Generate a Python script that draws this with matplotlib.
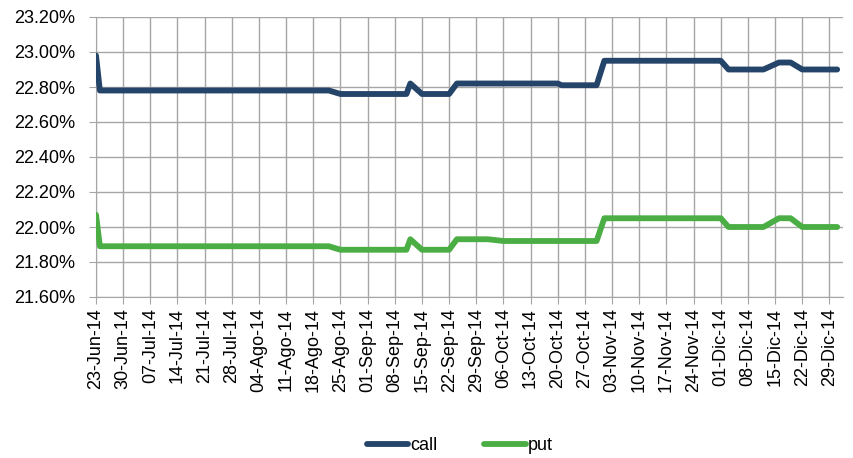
import datetime as dt
import matplotlib
matplotlib.use("Agg")
import matplotlib.pyplot as plt
from matplotlib.ticker import FuncFormatter

plt.rcParams['font.family'] = ['Liberation Sans', 'DejaVu Sans']

# fechas en que cambia el valor (volatilidad implícita, %)
call_dates = ['2014-06-23', '2014-06-24', '2014-08-22', '2014-08-25', '2014-09-11',
              '2014-09-12', '2014-09-15', '2014-09-22', '2014-09-24', '2014-10-20',
              '2014-10-21', '2014-10-30', '2014-11-01', '2014-12-01', '2014-12-03',
              '2014-12-12', '2014-12-16', '2014-12-19', '2014-12-22', '2014-12-31']
call_vals = [22.98, 22.78, 22.78, 22.76, 22.76,
             22.82, 22.76, 22.76, 22.82, 22.82,
             22.81, 22.81, 22.95, 22.95, 22.90,
             22.90, 22.94, 22.94, 22.90, 22.90]

put_dates = ['2014-06-23', '2014-06-24', '2014-08-22', '2014-08-25', '2014-09-11',
             '2014-09-12', '2014-09-15', '2014-09-22', '2014-09-24', '2014-10-02',
             '2014-10-06', '2014-10-30', '2014-11-01', '2014-12-01', '2014-12-03',
             '2014-12-12', '2014-12-16', '2014-12-19', '2014-12-22', '2014-12-31']
put_vals = [22.07, 21.89, 21.89, 21.87, 21.87,
            21.93, 21.87, 21.87, 21.93, 21.93,
            21.92, 21.92, 22.05, 22.05, 22.00,
            22.00, 22.05, 22.05, 22.00, 22.00]

tick_labels = ['23-Jun-14', '30-Jun-14', '07-Jul-14', '14-Jul-14', '21-Jul-14', '28-Jul-14',
               '04-Ago-14', '11-Ago-14', '18-Ago-14', '25-Ago-14', '01-Sep-14', '08-Sep-14',
               '15-Sep-14', '22-Sep-14', '29-Sep-14', '06-Oct-14', '13-Oct-14', '20-Oct-14',
               '27-Oct-14', '03-Nov-14', '10-Nov-14', '17-Nov-14', '24-Nov-14', '01-Dic-14',
               '08-Dic-14', '15-Dic-14', '22-Dic-14', '29-Dic-14']

to_dt = lambda s: dt.datetime.strptime(s, '%Y-%m-%d')
start = to_dt('2014-06-23')
tick_pos = [start + dt.timedelta(days=7 * i) for i in range(len(tick_labels))]

fig = plt.figure(figsize=(8.54, 4.58), dpi=100)
ax = fig.add_axes([96 / 854, 1 - 297 / 458, (843 - 96) / 854, 280 / 458])

grid_c = '#A6A6A6'
ax.plot([to_dt(d) for d in call_dates], call_vals, color='#254469', lw=4.2,
        solid_joinstyle='round', solid_capstyle='round', label='call', zorder=3)
ax.plot([to_dt(d) for d in put_dates], put_vals, color='#4BAE44', lw=4.2,
        solid_joinstyle='round', solid_capstyle='round', label='put', zorder=3)

ax.set_ylim(21.6, 23.2)
ax.set_yticks([21.6 + 0.2 * i for i in range(9)])
ax.yaxis.set_major_formatter(FuncFormatter(lambda v, p: f'{v:.2f}%'))
ax.set_xlim(start, to_dt('2015-01-01') + dt.timedelta(hours=12))
ax.set_xticks(tick_pos)
ax.set_xticklabels(tick_labels, rotation=90)

ax.grid(True, color=grid_c, lw=1)
ax.set_axisbelow(True)
for s in ['top', 'right']:
    ax.spines[s].set_visible(False)
for s in ['left', 'bottom']:
    ax.spines[s].set_color(grid_c)
ax.tick_params(axis='both', colors=grid_c, length=5, labelcolor='black', labelsize=13)
ax.tick_params(axis='y', pad=10)
ax.tick_params(axis='x', pad=3)

ax.legend(loc='lower center', bbox_to_anchor=(0.5 - 10 / 747, -0.62), ncol=2, frameon=False,
          fontsize=13, handlelength=2.3, handletextpad=0.1, columnspacing=2.6)

fig.savefig('out.png', dpi=100)
